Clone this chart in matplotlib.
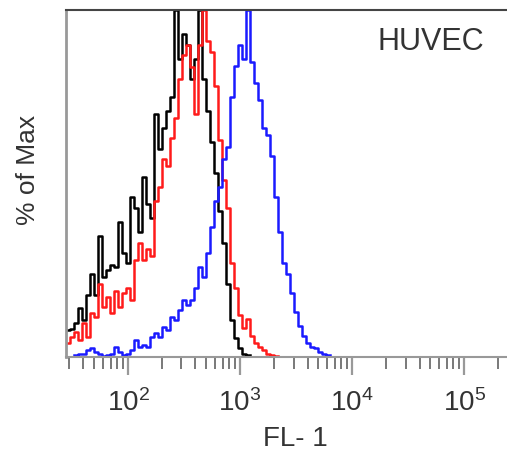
import numpy as np
import matplotlib
matplotlib.use("Agg")
import matplotlib.pyplot as plt
from matplotlib.ticker import LogLocator, NullFormatter

plt.rcParams['font.family'] = ['Liberation Sans', 'DejaVu Sans']

# histogram channels: 28 bins per decade on the FL-1 log scale, starting at ~28
log_start = 1.4464
bins_per_decade = 28

# % of Max per channel (nan = no events drawn)
nan = np.nan
black = [7.8, 8, 9.8, 14, 10.7, 18, 24, 18, 35, 23,
         25, 26.5, 26, 39, 30, 27, 46, 43, 36, 52,
         44, 40, 70, 60, 66, 71, 75, 100, 86, 93,
         90, 80, 86, 100, 80, 71, 62, 53, 42, 33,
         21, 10.7, 5.5, 2.5, 1, 0.5]
red = [4, 5.8, 7.2, 5, 9.8, 5.8, 12.7, 11.5, 21, 14.4,
       17.3, 12.7, 19, 14.4, 18.4, 20, 16.4, 28, 33, 28,
       31, 29, 45, 49, 57, 55, 63, 69, 80, 87,
       90, 83.6, 70, 90, 100, 91, 88, 78, 62.5, 51,
       43, 27, 20, 12, 8.5, 11, 6, 4, 3, 2,
       1, 0.7, 0.4]
blue = [nan, nan, 0.5, 1, 1, 2, 2.6, 1.5, 1, 0.3,
        0.5, 1, 3, 1.5, 0.5, 1, 2, 5, 3, 3.5,
        3, 5.8, 7, 5.8, 8.6, 7.8, 11.5, 10.7, 13.5, 16.4,
        15, 16.4, 20, 26, 23, 30, 37.5, 45, 49, 57,
        60.5, 75, 84, 90, 86, 100, 85, 79, 74, 66,
        64, 58, 46, 36, 27, 24, 18.4, 13, 9, 6,
        4, 2.8, 2.6, 1.5, 1, 0.5]

series = [(black, '#000000'), (red, '#ff1a1a'), (blue, '#1a1aff')]

fig = plt.figure(figsize=(5.07, 4.58), dpi=100)
ax = fig.add_axes([0.1302, 0.2205, 0.8777, 0.7576])

for vals, col in series:
    vals = np.asarray(vals, dtype=float)
    edges = 10 ** (log_start + np.arange(len(vals) + 1) / bins_per_decade)
    ax.step(edges, np.append(vals, vals[-1]), where='post', color=col, lw=1.8)

ax.set_xscale('log')
ax.set_xlim(10 ** log_start, 262144)
ax.set_ylim(0, 100)

ax.xaxis.set_major_locator(LogLocator(base=10, numticks=10))
ax.xaxis.set_minor_locator(LogLocator(base=10, subs=np.arange(2, 10), numticks=20))
ax.xaxis.set_minor_formatter(NullFormatter())
ax.tick_params(axis='x', which='major', length=13, width=1.6, color='#999999',
               labelsize=20, labelcolor='#333333', pad=10)
ax.tick_params(axis='x', which='minor', length=8.5, width=1.1, color='#555555')
ax.set_yticks([])

ax.spines['top'].set_color('#444444')
ax.spines['top'].set_linewidth(1.5)
ax.spines['left'].set_color('#999999')
ax.spines['left'].set_linewidth(2)
ax.spines['bottom'].set_color('#999999')
ax.spines['bottom'].set_linewidth(1.5)
ax.spines['right'].set_visible(False)

ax.set_xlabel('FL- 1', fontsize=20, color='#333333')
ax.xaxis.set_label_coords(0.515, -0.2)
ax.set_ylabel('% of Max', fontsize=19, color='#333333')
ax.yaxis.set_label_coords(-0.058, 0.54)

ax.text(0.701, 0.908, 'HUVEC', transform=ax.transAxes, fontsize=22,
        color='#333333', ha='left', va='center')

fig.savefig('out.png', dpi=100)
